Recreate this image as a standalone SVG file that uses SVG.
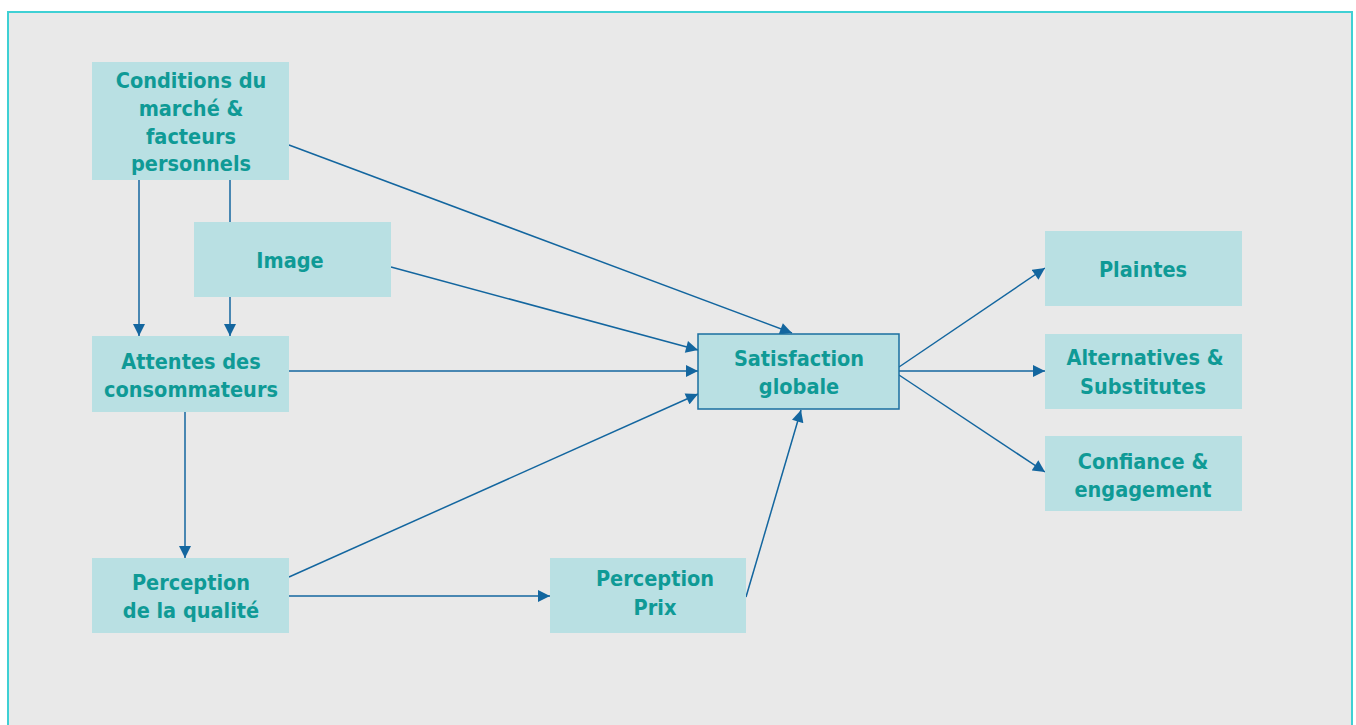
<svg xmlns="http://www.w3.org/2000/svg" width="1356" height="725" viewBox="0 0 1356 725">
<defs>
<style>
.bg{fill:#e9e9e9;stroke:#3fd0d4;stroke-width:2}
.box{fill:#b9e0e3}
.sat{fill:#b9e0e3;stroke:#1a6fa0;stroke-width:1.5}
.t{font-family:"DejaVu Sans Condensed","DejaVu Sans",sans-serif;font-stretch:condensed;font-weight:bold;font-size:21.5px;fill:#0f9a96;text-anchor:middle}
.c{stroke:#13669f;stroke-width:1.5;fill:none}
</style>
<marker id="arrb" viewBox="0 0 10 10" refX="10" refY="5" markerWidth="13" markerHeight="12" markerUnits="userSpaceOnUse" orient="auto">
<path d="M0,0 L10,5 L0,10 z" fill="#13669f"/>
</marker>
</defs>
<rect class="bg" x="8" y="12" width="1344" height="720"/>
<g id="connectors">
<line class="c" x1="139" y1="180" x2="139" y2="336" marker-end="url(#arrb)"/>
<line class="c" x1="230" y1="180" x2="230" y2="336" marker-end="url(#arrb)"/>
<line class="c" x1="289" y1="145" x2="792" y2="333" marker-end="url(#arrb)"/>
<line class="c" x1="391" y1="267" x2="698" y2="350" marker-end="url(#arrb)"/>
<line class="c" x1="289" y1="371" x2="698" y2="371" marker-end="url(#arrb)"/>
<line class="c" x1="185" y1="412" x2="185" y2="558" marker-end="url(#arrb)"/>
<line class="c" x1="289" y1="577" x2="698" y2="394" marker-end="url(#arrb)"/>
<line class="c" x1="289" y1="596" x2="550" y2="596" marker-end="url(#arrb)"/>
<line class="c" x1="746" y1="597" x2="801" y2="410" marker-end="url(#arrb)"/>
<line class="c" x1="899" y1="367" x2="1045" y2="268" marker-end="url(#arrb)"/>
<line class="c" x1="899" y1="371" x2="1045" y2="371" marker-end="url(#arrb)"/>
<line class="c" x1="899" y1="375" x2="1045" y2="472" marker-end="url(#arrb)"/>
</g>
<g id="conditions">
<rect class="box" x="92" y="62" width="197" height="118"/>
<text class="t" x="191" y="88">Conditions du</text>
<text class="t" x="191" y="116">marché &amp;</text>
<text class="t" x="191" y="144">facteurs</text>
<text class="t" x="191" y="171">personnels</text>
</g>
<g id="image">
<rect class="box" x="194" y="222" width="197" height="75"/>
<text class="t" x="290" y="268">Image</text>
</g>
<g id="attentes">
<rect class="box" x="92" y="336" width="197" height="76"/>
<text class="t" x="191" y="369">Attentes des</text>
<text class="t" x="191" y="397">consommateurs</text>
</g>
<g id="qualite">
<rect class="box" x="92" y="558" width="197" height="75"/>
<text class="t" x="191" y="590">Perception</text>
<text class="t" x="191" y="618">de la qualité</text>
</g>
<g id="prix">
<rect class="box" x="550" y="558" width="196" height="75"/>
<text class="t" x="655" y="586">Perception</text>
<text class="t" x="655" y="615">Prix</text>
</g>
<g id="satisfaction">
<rect class="sat" x="698" y="334" width="201" height="75"/>
<text class="t" x="799" y="366">Satisfaction</text>
<text class="t" x="799" y="394">globale</text>
</g>
<g id="plaintes">
<rect class="box" x="1045" y="231" width="197" height="75"/>
<text class="t" x="1143" y="277">Plaintes</text>
</g>
<g id="alternatives">
<rect class="box" x="1045" y="334" width="197" height="75"/>
<text class="t" x="1145" y="365">Alternatives &amp;</text>
<text class="t" x="1143" y="394">Substitutes</text>
</g>
<g id="confiance">
<rect class="box" x="1045" y="436" width="197" height="75"/>
<text class="t" x="1143" y="469">Confiance &amp;</text>
<text class="t" x="1143" y="497">engagement</text>
</g>
</svg>
